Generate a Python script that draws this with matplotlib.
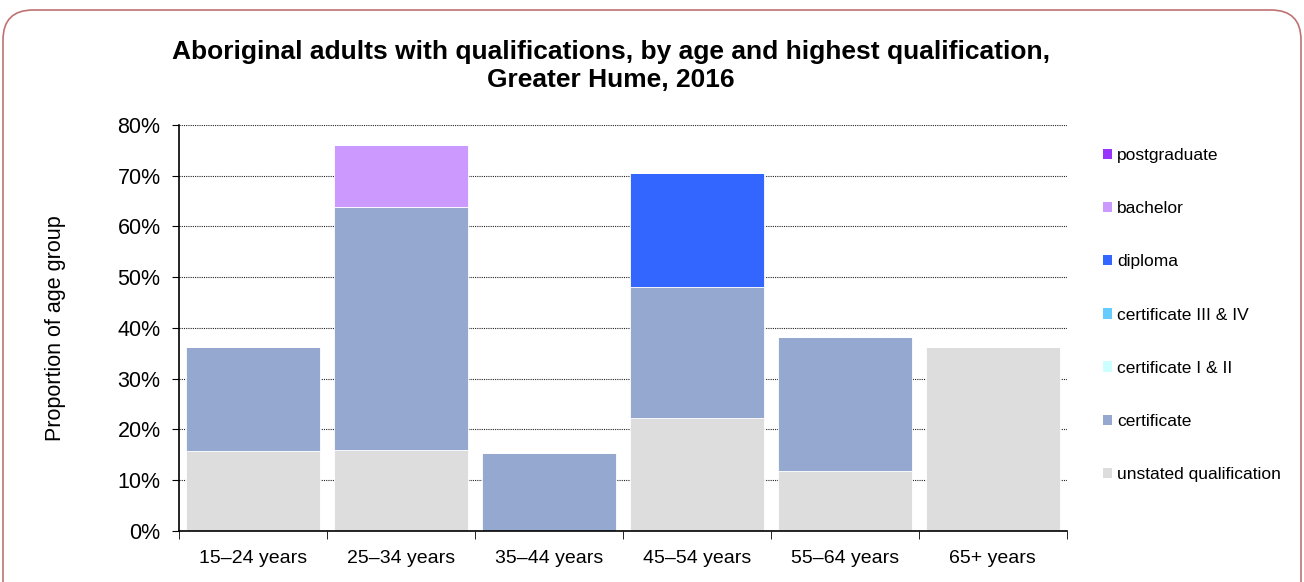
import numpy as np
import matplotlib
matplotlib.use("Agg")
import matplotlib.pyplot as plt
from matplotlib.patches import FancyBboxPatch, Patch
from matplotlib.ticker import PercentFormatter, FixedLocator

plt.rcParams["font.family"] = ["Liberation Sans", "DejaVu Sans"]

ages = ["15–24 years", "25–34 years", "35–44 years", "45–54 years", "55–64 years", "65+ years"]

# shares of each age group (%), stacked bottom to top
unstated = [15.8, 16.0, 0.0, 22.3, 11.8, 36.3]
certificate = [20.5, 47.8, 15.4, 25.8, 26.4, 0.0]
cert_1_2 = [0, 0, 0, 0, 0, 0]
cert_3_4 = [0, 0, 0, 0, 0, 0]
diploma = [0.0, 0.0, 0.0, 22.4, 0.0, 0.0]
bachelor = [0.0, 12.3, 0.0, 0.0, 0.0, 0.0]
postgrad = [0, 0, 0, 0, 0, 0]

series = [
    ("unstated qualification", unstated, "#dddddd"),
    ("certificate", certificate, "#95a9d0"),
    ("certificate I & II", cert_1_2, "#ccffff"),
    ("certificate III & IV", cert_3_4, "#66ccff"),
    ("diploma", diploma, "#3366ff"),
    ("bachelor", bachelor, "#cc99ff"),
    ("postgraduate", postgrad, "#9933ff"),
]

W, H = 1304, 582
fig = plt.figure(figsize=(W / 100, H / 100), dpi=100)

# rounded frame round the whole chart, drawn in pixel units
bg = fig.add_axes([0, 0, 1, 1], zorder=-1)
bg.set_xlim(0, W)
bg.set_ylim(H, 0)
bg.axis("off")
bg.add_patch(FancyBboxPatch((3, 10), W - 6, H + 30,
                            boxstyle="round,pad=0,rounding_size=30",
                            fill=False, edgecolor="#c07272", linewidth=1.2))

ax = fig.add_axes([0.137, 0.0876, 0.681, 0.698])

x = np.arange(len(ages))
bottom = np.zeros(len(ages))
for name, vals, col in series:
    vals = np.array(vals, dtype=float)
    ax.bar(x, vals, 0.905, bottom=bottom, color=col, edgecolor="white",
           linewidth=0.6, zorder=2)
    bottom += vals

ax.set_xlim(-0.5, len(ages) - 0.5)
ax.set_ylim(0, 80)
ax.yaxis.set_major_locator(FixedLocator(np.arange(0, 81, 10)))
ax.yaxis.set_major_formatter(PercentFormatter(decimals=0))
ax.grid(axis="y", color="#222222", linestyle=(0, (1, 1)), linewidth=0.8, zorder=0)

ax.set_xticks(x)
ax.set_xticklabels(ages)
ax.set_xticks(np.arange(-0.5, len(ages)), minor=True)
ax.tick_params(axis="x", which="major", length=0, labelsize=14, pad=14)
ax.tick_params(axis="x", which="minor", length=6, direction="out")
ax.tick_params(axis="y", length=5, labelsize=15.5, pad=8)

for s in ["top", "right"]:
    ax.spines[s].set_visible(False)
ax.spines["left"].set_linewidth(1.2)
ax.spines["bottom"].set_linewidth(1.2)

ax.set_ylabel("Proportion of age group", fontsize=15.5, labelpad=37)
ax.set_title("Aboriginal adults with qualifications, by age and highest qualification,\n"
             "Greater Hume, 2016", fontsize=19, fontweight="bold", pad=27, x=0.487)

handles = [Patch(facecolor=c, edgecolor="none", label=n) for n, _, c in series[::-1]]
ax.legend(handles=handles, loc="upper left", bbox_to_anchor=(1.033, 0.96),
          frameon=False, fontsize=12.5, handlelength=0.55, handleheight=0.55,
          handletextpad=0.25, labelspacing=2.2, borderaxespad=0)

fig.savefig("out.png", dpi=100)
